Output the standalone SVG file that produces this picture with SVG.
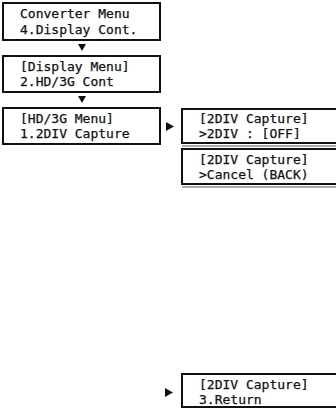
<svg xmlns="http://www.w3.org/2000/svg" width="336" height="409" viewBox="0 0 336 409">
<style>
.box{fill:#fff;stroke:#111;stroke-width:2}
.sh{stroke:#555;stroke-width:1;fill:none}
.t{font-family:"DejaVu Sans Mono","Liberation Mono",monospace;font-size:13px;fill:#111;stroke:#111;stroke-width:0.25}
.ar{fill:#111}
</style>
<rect width="336" height="409" fill="#fff"/>
<g id="n1"><rect class="box" x="3" y="3" width="157" height="37"/><text class="t" x="20" y="18">Converter Menu</text><text class="t" x="20" y="34">4.Display Cont.</text></g>
<g id="n2"><rect class="box" x="3" y="56" width="157" height="36"/><text class="t" x="20" y="71">[Display Menu]</text><text class="t" x="20" y="86">2.HD/3G Cont</text></g>
<g id="n3"><rect class="box" x="3" y="108" width="157" height="36"/><text class="t" x="20" y="123">[HD/3G Menu]</text><text class="t" x="20" y="138">1.2DIV Capture</text></g>
<g id="n4"><rect class="box" x="182" y="109" width="170" height="34"/><line class="sh" x1="182" y1="146" x2="340" y2="146"/><text class="t" x="199" y="123">[2DIV Capture]</text><text class="t" x="199" y="138">&gt;2DIV : [OFF]</text></g>
<g id="n5"><rect class="box" x="182" y="149" width="170" height="35"/><line class="sh" x1="182" y1="187" x2="340" y2="187"/><text class="t" x="199" y="164">[2DIV Capture]</text><text class="t" x="199" y="179">&gt;Cancel (BACK)</text></g>
<g id="n6"><rect class="box" x="182" y="374" width="170" height="33"/><text class="t" x="199" y="389">[2DIV Capture]</text><text class="t" x="199" y="404">3.Return</text></g>
<g id="connectors">
<polygon class="ar" points="78,44 86,44 82,51"/>
<polygon class="ar" points="78,96 86,96 82,103"/>
<polygon class="ar" points="166,122 174,126.5 166,131"/>
<polygon class="ar" points="165,388 173,392.5 165,397"/>
</g>
</svg>
